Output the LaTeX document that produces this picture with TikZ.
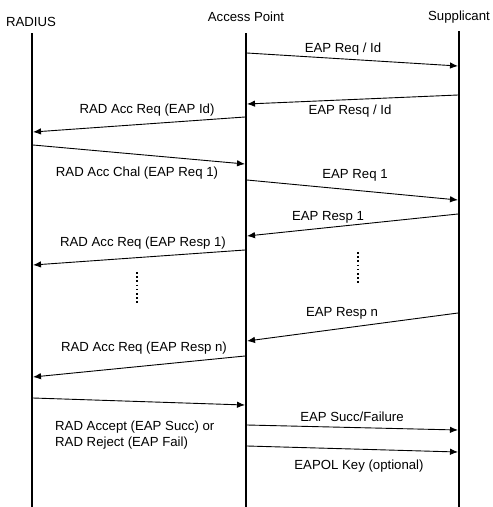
\documentclass[tikz,border=0pt]{standalone}
\usepackage{fontspec}
\setmainfont{Liberation Sans}
\usetikzlibrary{arrows.meta}
\begin{document}
\begin{tikzpicture}[x=1pt,y=-1pt,
  lifeline/.style={line width=2.6pt},
  msg/.style={line width=0.9pt,-{Latex[length=8pt,width=6.5pt]}},
  lbl/.style={font=\fontsize{13.2}{15.5}\selectfont,inner sep=0pt},
  head/.style={font=\fontsize{13.2}{15.5}\selectfont,inner sep=0pt},
  ellipsis/.style={line width=1.8pt,dash pattern=on 1.6pt off 2.6pt}]
\useasboundingbox (0,0) rectangle (493,507);

% participants
\node[head] (radius) at (31,22) {RADIUS};
\node[head] (ap) at (246,17) {Access Point};
\node[head] (sup) at (459,17) {Supplicant};

% lifelines
\coordinate (radiusTop) at (32,33);
\coordinate (radiusBot) at (32,507);
\coordinate (apTop) at (246,33);
\coordinate (apBot) at (246,507);
\coordinate (supTop) at (459,31);
\coordinate (supBot) at (459,507);
\draw[lifeline] (radiusTop) -- (radiusBot);
\draw[lifeline] (apTop) -- (apBot);
\draw[lifeline] (supTop) -- (supBot);

% message end points
\coordinate (m1a) at (247,53);  \coordinate (m1b) at (458,66);
\coordinate (m2a) at (458,95);  \coordinate (m2b) at (247,104);
\coordinate (m3a) at (245,117); \coordinate (m3b) at (33,132);
\coordinate (m4a) at (33,145);  \coordinate (m4b) at (245,164);
\coordinate (m5a) at (247,180); \coordinate (m5b) at (458,200);
\coordinate (m6a) at (458,214); \coordinate (m6b) at (247,236);
\coordinate (m7a) at (245,250); \coordinate (m7b) at (33,265);
\coordinate (m9a) at (458,313); \coordinate (m9b) at (247,341);
\coordinate (m10a) at (245,356); \coordinate (m10b) at (33,377);
\coordinate (m11a) at (33,398); \coordinate (m11b) at (245,405);
\coordinate (m12a) at (247,425); \coordinate (m12b) at (458,430);
\coordinate (m13a) at (247,446); \coordinate (m13b) at (458,452);

% messages
\draw[msg] (m1a) -- (m1b);
\draw[msg] (m2a) -- (m2b);
\draw[msg] (m3a) -- (m3b);
\draw[msg] (m4a) -- (m4b);
\draw[msg] (m5a) -- (m5b);
\draw[msg] (m6a) -- (m6b);
\draw[msg] (m7a) -- (m7b);
\draw[msg] (m9a) -- (m9b);
\draw[msg] (m10a) -- (m10b);
\draw[msg] (m11a) -- (m11b);
\draw[msg] (m12a) -- (m12b);
\draw[msg] (m13a) -- (m13b);

% message labels
\node[lbl] (l1) at (343,49) {EAP Req / Id};
\node[lbl] (l2) at (350,111) {EAP Resq / Id};
\node[lbl] (l3) at (147,110) {RAD Acc Req (EAP Id)};
\node[lbl] (l4) at (137,173) {RAD Acc Chal (EAP Req 1)};
\node[lbl] (l5) at (355,175) {EAP Req 1};
\node[lbl] (l6) at (328,217) {EAP Resp 1};
\node[lbl] (l7) at (143,243) {RAD Acc Req (EAP Resp 1)};
\node[lbl] (l9) at (342,313) {EAP Resp n};
\node[lbl] (l10) at (144,348) {RAD Acc Req (EAP Resp n)};
\node[lbl,anchor=west,align=left] (l11) at (55,435)
  {RAD Accept (EAP Succ) or\\RAD Reject (EAP Fail)};
\node[lbl] (l12) at (352,417) {EAP Succ/Failure};
\node[lbl] (l13) at (359,466) {EAPOL Key (optional)};

% repeated exchanges
\coordinate (dotsLa) at (137,272); \coordinate (dotsLb) at (137,305);
\coordinate (dotsRa) at (358,252); \coordinate (dotsRb) at (358,285);
\draw[ellipsis] (dotsLa) -- (dotsLb);
\draw[ellipsis] (dotsRa) -- (dotsRb);
\end{tikzpicture}
\end{document}
